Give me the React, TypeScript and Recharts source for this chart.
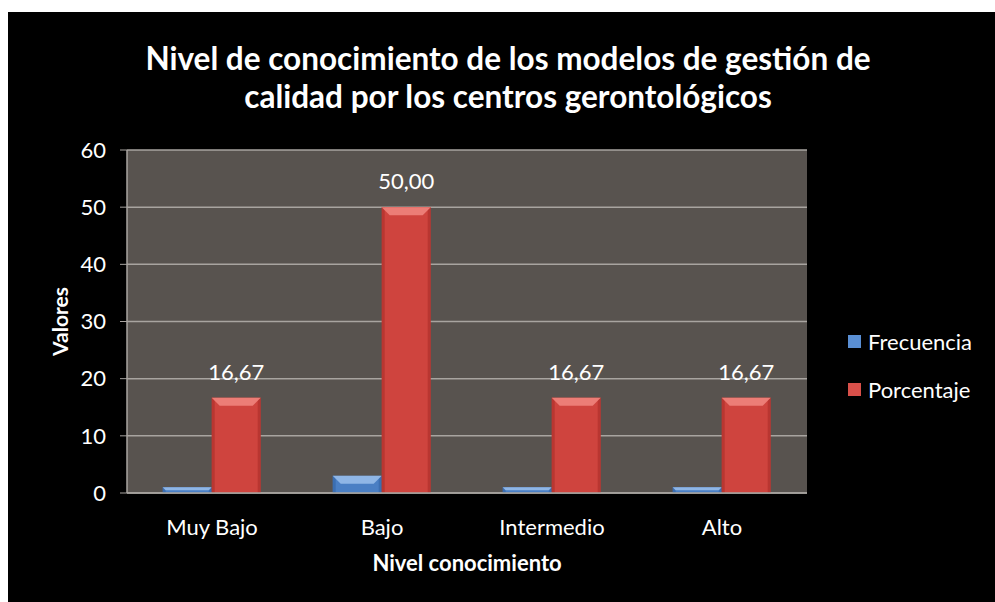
import * as React from 'react';
import { BarChart, Bar, XAxis, YAxis, CartesianGrid, LabelList } from 'recharts';

const categories = ['Muy Bajo', 'Bajo', 'Intermedio', 'Alto'];
const frecuencia = [1, 3, 1, 1];
const porcentaje = [16.67, 50, 16.67, 16.67];
const yTicks = [0, 10, 20, 30, 40, 50, 60];

const data = categories.map((name, i) => ({
  name,
  frecuencia: frecuencia[i],
  porcentaje: porcentaje[i],
}));

const FONT = 'Lato, "Open Sans", sans-serif';

function BevelBar(props: any) {
  const { x, y, width, height, base, light, dark } = props;
  if (!height || height <= 0) return null;
  const b = Math.min(8, height / 2, width / 5);
  return (
    <g>
      <rect x={x} y={y} width={width} height={height} fill={base} />
      <rect x={x} y={y} width={3} height={height} fill={dark} opacity={0.35} />
      <rect x={x + width - 3} y={y} width={3} height={height} fill={dark} opacity={0.35} />
      <polygon
        points={`${x},${y} ${x + width},${y} ${x + width - b},${y + b} ${x + b},${y + b}`}
        fill={light}
      />
    </g>
  );
}

const legendItems = [
  { label: 'Frecuencia', color: '#5a8fd4' },
  { label: 'Porcentaje', color: '#d8504a' },
];

export default function App() {
  return (
    <div style={{ position: 'fixed', left: 8, top: 12, width: 987, height: 590, background: '#000', fontFamily: FONT }}>
      <div style={{ position: 'absolute', top: 27, left: 0, width: 1000, textAlign: 'center', color: 'white', fontWeight: 700, fontSize: 31.5, lineHeight: '38px' }}>
        Nivel de conocimiento de los modelos de gestión de
        <br />
        calidad por los centros gerontológicos
      </div>
      <div style={{ position: 'absolute', top: 305, left: 840, color: 'white', fontSize: 22 }}>
        {legendItems.map((it) => (
          <div key={it.label} style={{ display: 'flex', alignItems: 'center', height: 48 }}>
            <span style={{ width: 13, height: 13, background: it.color, marginRight: 7, display: 'inline-block' }} />
            {it.label}
          </div>
        ))}
      </div>
      <BarChart
        width={987}
        height={590}
        data={data}
        margin={{ top: 138, right: 188, left: 0, bottom: 0 }}
        barCategoryGap="21%"
        barGap={0}
      >
        <CartesianGrid vertical={false} stroke="#a8a4a0" strokeWidth={1.5} fill="#58534f" />
        <XAxis
          dataKey="name"
          height={109}
          tickLine={false}
          tickMargin={20}
          axisLine={{ stroke: '#a8a4a0', strokeWidth: 1.5 }}
          tick={{ fill: 'white', fontSize: 22, fontFamily: FONT }}
          label={{ value: 'Nivel conocimiento', position: 'insideTop', offset: 62, fill: 'white', fontSize: 22, fontWeight: 700, fontFamily: FONT }}
        />
        <YAxis
          width={119}
          domain={[0, 60]}
          ticks={yTicks}
          interval={0}
          tickSize={7}
          tickMargin={14}
          tickLine={{ stroke: '#a8a4a0' }}
          axisLine={{ stroke: '#a8a4a0', strokeWidth: 1.5 }}
          tick={{ fill: 'white', fontSize: 22, fontFamily: FONT }}
          label={{ value: 'Valores', angle: -90, position: 'insideLeft', offset: 53, fill: 'white', fontSize: 21, fontWeight: 700, fontFamily: FONT, style: { textAnchor: 'middle' } }}
        />
        <Bar
          dataKey="frecuencia"
          name="Frecuencia"
          isAnimationActive={false}
          fill="#4a7fc4"
          shape={(p: any) => <BevelBar {...p} base="#4a7fc4" light="#8fb6e6" dark="#1f4f8f" />}
        />
        <Bar
          dataKey="porcentaje"
          name="Porcentaje"
          isAnimationActive={false}
          fill="#cf443e"
          shape={(p: any) => <BevelBar {...p} base="#cf443e" light="#ec7d76" dark="#8e1e1a" />}
        >
          <LabelList
            dataKey="porcentaje"
            position="top"
            offset={18}
            fill="white"
            fontSize={22}
            fontFamily={FONT}
            formatter={(v: any) => Number(v).toFixed(2).replace('.', ',')}
          />
        </Bar>
      </BarChart>
    </div>
  );
}
